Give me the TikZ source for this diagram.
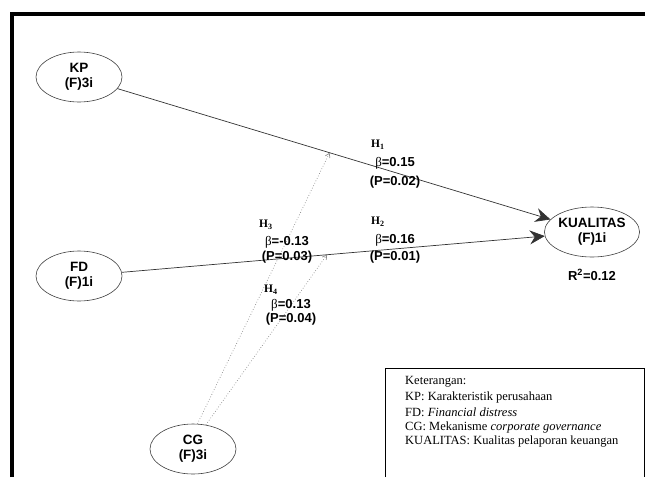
\documentclass[tikz,border=0pt]{standalone}
\usepackage{fontspec}
\setmainfont{Liberation Serif}
\newfontfamily\arialf{Liberation Sans}
\usetikzlibrary{arrows.meta,shapes.geometric}
\begin{document}
\begin{tikzpicture}[x=1pt,y=-1pt,
  latent/.style={draw=black!75, ellipse, line width=0.6pt, minimum width=86pt, minimum height=50pt, inner sep=0pt, font=\arialf\bfseries\fontsize{13.5}{15}\selectfont, align=center},
  stat/.style={font=\arialf\bfseries\fontsize{13}{14}\selectfont, inner sep=0pt},
  hyp/.style={font=\bfseries\fontsize{11.5}{13}\selectfont, inner sep=0pt, anchor=west},
  leg/.style={font=\fontsize{12.5}{14}\selectfont, inner sep=0pt, anchor=west},
  path1/.style={draw=black!80, line width=0.7pt, -{Stealth[length=15pt,width=14pt,inset=5pt]}},
  mod/.style={draw=black!45, dotted, line width=0.7pt, -{Straight Barb[length=4pt,width=5pt]}},
  frame/.style={line width=4pt, black}
]
\useasboundingbox (0,0) rectangle (645,477);
\draw[frame] (12,477) -- (12,13.5) -- (645,13.5);
% nodes
\node[latent] (kp) at (79,77) {KP\\(F)3i};
\node[latent] (fd) at (79,276) {FD\\(F)1i};
\node[latent] (cg) at (193,449) {CG\\(F)3i};
\node[latent, minimum width=76pt] (kual) at (592,232) {KUALITAS\\(F)1i};
% paths
\draw[path1] (kp) -- coordinate[pos=0.49] (m1) (kual);
\draw[path1] (fd) -- coordinate[pos=0.485] (m2) (kual);
\draw[mod] (cg.80) -- (m1);
\draw[mod] (cg.62) -- (m2);
% labels
\node[hyp] (h1) at (371,145) {H\textsubscript{1}};
\node[stat] (b1) at (395,163) {{\rmfamily\mdseries β}=0.15};
\node[stat] (p1) at (395,182) {(P=0.02)};
\node[hyp] (h2) at (371,222) {H\textsubscript{2}};
\node[stat] (b2) at (395,240) {{\rmfamily\mdseries β}=0.16};
\node[stat] (p2) at (395,257) {(P=0.01)};
\node[hyp] (h3) at (259,225) {H\textsubscript{3}};
\node[stat] (b3) at (287,242) {{\rmfamily\mdseries β}=-0.13};
\node[stat] (p3) at (287,257) {(P=0.03)};
\node[hyp] (h4) at (264,290) {H\textsubscript{4}};
\node[stat] (b4) at (291,305) {{\rmfamily\mdseries β}=0.13};
\node[stat] (p4) at (291,319) {(P=0.04)};
\node[stat] (r2) at (592,275) {R\textsuperscript{2}=0.12};
% legend
\draw[line width=0.8pt] (385,477) -- (385,368) -- (644,368) -- (644,477);
\node[leg] (l1) at (405,382) {Keterangan:};
\node[leg] (l2) at (405,397) {KP: Karakteristik perusahaan};
\node[leg] (l3) at (405,412) {FD: \textit{Financial distress}};
\node[leg] (l4) at (405,427) {CG: Mekanisme \textit{corporate governance}};
\node[leg] (l5) at (405,442) {KUALITAS: Kualitas pelaporan keuangan};
\end{tikzpicture}
\end{document}
